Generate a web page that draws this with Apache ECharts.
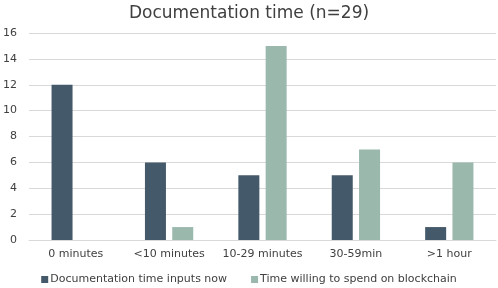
<!DOCTYPE html>
<html><head><meta charset="utf-8">
<script src="https://cdn.jsdelivr.net/npm/echarts@6/dist/echarts.min.js"></script>
<style>html,body{margin:0;padding:0;background:#fff}#c{width:498px;height:288px}</style>
</head><body><div id="c"></div>
<script>
const categories = ["0 minutes", "<10 minutes", "10-29 minutes", "30-59min", ">1 hour"];
const nowValues = [12, 6, 5, 5, 1];
const willingValues = [0, 1, 15, 7, 6];
const seriesNames = ["Documentation time inputs now", "Time willing to spend on blockchain"];
const yTicks = {min: 0, max: 16, interval: 2};

const chart = echarts.init(document.getElementById('c'), null, {renderer: 'canvas'});
const font = '"DejaVu Sans"';
chart.setOption({
  animation: false,
  title: {text: 'Documentation time (n=29)', left: 'center', top: 0,
    textStyle: {fontFamily: font, fontSize: 17, fontWeight: 'normal', color: '#404040'}},
  grid: {left: 25, right: 2, top: 33, bottom: 48, containLabel: false},
  legend: {top: 274, left: 'center', padding: 0, itemWidth: 7, itemHeight: 7, itemGap: 24,
    icon: 'rect', textStyle: {fontFamily: font, fontSize: 11, color: '#404040', padding: [0,0,0,-3]}},
  xAxis: {type: 'category', data: categories,
    axisLine: {lineStyle: {color: '#d9d9d9'}}, axisTick: {show: false},
    axisLabel: {interval: 0, fontFamily: font, fontSize: 11, color: '#404040', margin: 9}},
  yAxis: {type: 'value', min: yTicks.min, max: yTicks.max, interval: yTicks.interval,
    axisLine: {show: false}, axisTick: {show: false},
    splitLine: {lineStyle: {color: '#d9d9d9'}},
    axisLabel: {fontFamily: font, fontSize: 11, color: '#404040', margin: 12}},
  series: [
    {name: seriesNames[0], type: 'bar', data: nowValues, barWidth: 21, barGap: '30%',
      itemStyle: {color: '#44596a'}},
    {name: seriesNames[1], type: 'bar', data: willingValues, barWidth: 21,
      itemStyle: {color: '#9bb8ad'}}
  ]
});
</script></body></html>
